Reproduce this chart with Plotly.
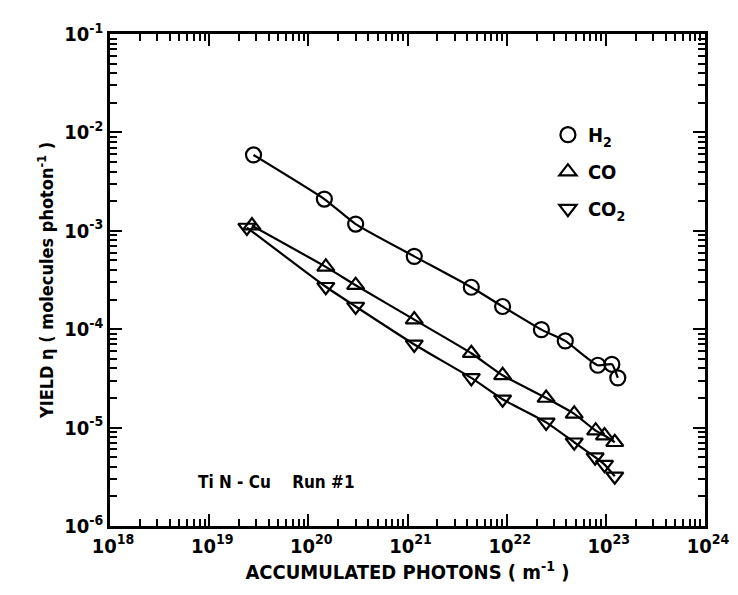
import plotly.graph_objects as go

# ---- data ----
h2_x = [2.8e19, 1.45e20, 3.0e20, 1.17e21, 4.4e21, 9.1e21, 2.24e22, 3.9e22, 8.3e22, 1.15e23, 1.32e23]
h2_y = [5.9e-3, 2.1e-3, 1.17e-3, 5.5e-4, 2.67e-4, 1.7e-4, 9.9e-5, 7.6e-5, 4.3e-5, 4.4e-5, 3.2e-5]

co_x = [2.7e19, 1.5e20, 3.0e20, 1.17e21, 4.4e21, 9.1e21, 2.5e22, 4.8e22, 7.9e22, 9.7e22, 1.23e23]
co_y = [1.13e-3, 4.3e-4, 2.8e-4, 1.25e-4, 5.7e-5, 3.4e-5, 2.0e-5, 1.38e-5, 9.3e-6, 8.3e-6, 7.1e-6]

co2_x = [2.4e19, 1.5e20, 3.0e20, 1.17e21, 4.4e21, 9.1e21, 2.5e22, 4.8e22, 7.8e22, 9.7e22, 1.23e23]
co2_y = [1.08e-3, 2.7e-4, 1.7e-4, 7.0e-5, 3.2e-5, 1.94e-5, 1.13e-5, 7.1e-6, 5.0e-6, 4.2e-6, 3.2e-6]

x_tickvals = [1e18, 1e19, 1e20, 1e21, 1e22, 1e23, 1e24]
x_ticktext = ["10<sup>18</sup>", "10<sup>19</sup>", "10<sup>20</sup>", "10<sup>21</sup>",
              "10<sup>22</sup>", "10<sup>23</sup>", "10<sup>24</sup>"]
y_tickvals = [1e-6, 1e-5, 1e-4, 1e-3, 1e-2, 1e-1]
y_ticktext = ["10<sup>-6</sup>", "10<sup>-5</sup>", "10<sup>-4</sup>", "10<sup>-3</sup>",
              "10<sup>-2</sup>", "10<sup>-1</sup>"]

series = [
    ("H<sub>2</sub>", h2_x, h2_y, "circle-open"),
    ("CO", co_x, co_y, "triangle-up-open"),
    ("CO<sub>2</sub>", co2_x, co2_y, "triangle-down-open"),
]

FONT = "DejaVu Sans Condensed, Liberation Sans Narrow, Liberation Sans, Arial, sans-serif"

fig = go.Figure()
for i, (name, xs, ys, sym) in enumerate(series):
    fig.add_trace(go.Scatter(
        x=xs, y=ys, mode="lines", showlegend=False,
        line=dict(color="black", width=2.2, shape="spline", smoothing=0.5),
        hoverinfo="skip",
    ))
for i, (name, xs, ys, sym) in enumerate(series):
    fig.add_trace(go.Scatter(
        x=xs, y=ys, mode="markers", name=name, legendgroup=f"g{i}",
        marker=dict(symbol=sym, size=15, color="black",
                    line=dict(width=2.2, color="black")),
    ))

axis_common = dict(
    type="log", showgrid=False, zeroline=False,
    showline=True, linecolor="black", linewidth=2.5, mirror="ticks",
    ticks="inside", ticklen=12, tickwidth=2, tickcolor="black",
    minor=dict(ticks="inside", ticklen=7, tickwidth=1.5, tickcolor="black", dtick="D1"),
    tickfont=dict(family=FONT, size=20, color="black", weight="bold"),
)

fig.update_xaxes(
    range=[18, 24], tickvals=x_tickvals, ticktext=x_ticktext,
    title_text="ACCUMULATED PHOTONS ( m<sup>-1</sup> )", title_standoff=8,
    title_font=dict(family=FONT, size=20, color="black", weight="bold"),
    ticklabelshift=3,
    **axis_common,
)
fig.update_yaxes(
    range=[-6, -1], tickvals=y_tickvals, ticktext=y_ticktext,
    title_text="YIELD \u03b7 ( molecules photon<sup>-1</sup> )", title_standoff=6,
    title_font=dict(family=FONT, size=18, color="black", weight="bold"),
    **axis_common,
)

fig.add_annotation(
    x=0.145, y=0.09, xref="paper", yref="paper", xanchor="left", yanchor="middle",
    text="Ti N - Cu&nbsp;&nbsp;&nbsp;&nbsp;Run #1", showarrow=False,
    font=dict(family=FONT, size=17, color="black", weight="bold"),
)

fig.update_layout(
    width=738, height=595,
    margin=dict(l=102, r=41, t=22, b=77),
    paper_bgcolor="white", plot_bgcolor="white",
    font=dict(family=FONT, color="black"),
    legend=dict(x=0.736, y=0.835, xanchor="left", yanchor="top",
                bgcolor="rgba(0,0,0,0)", tracegroupgap=8,
                font=dict(family=FONT, size=20, color="black", weight="bold")),
)

fig.write_html("out.html")
